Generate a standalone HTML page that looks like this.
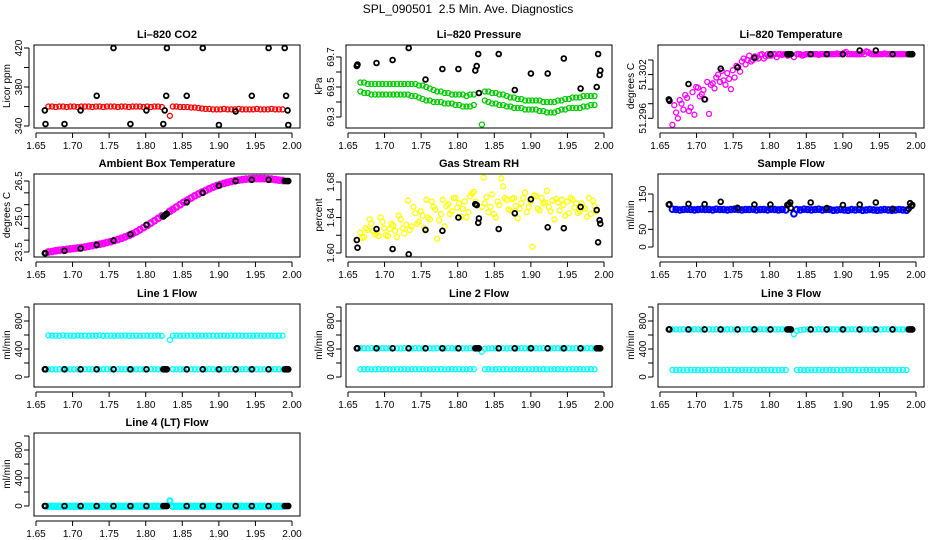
<!DOCTYPE html>
<html><head><meta charset="utf-8"><style>
html,body{margin:0;padding:0;background:#fff;}
svg{display:block;font-family:"Liberation Sans",Arial,sans-serif;}
</style></head><body>
<svg id="chart" width="936" height="540" viewBox="0 0 936 540">
<text x="468" y="13" text-anchor="middle" font-size="12">SPL_090501 &#160;2.5 Min. Ave. Diagnostics</text>
</svg>
<script>
// ---- shared time values ----
const blackTimes = [1.662,1.663,1.689,1.711,1.733,1.756,1.779,1.801,1.824,1.826,1.828,1.829,1.856,1.878,1.900,1.923,1.945,1.968,1.990,1.992,1.994,1.995];
const xTicks = [1.65,1.70,1.75,1.80,1.85,1.90,1.95,2.00];
const xTickLabels = ["1.65","1.70","1.75","1.80","1.85","1.90","1.95","2.00"];

// ---- Li-820 CO2 ----
const co2Red = [360,360,359.5,360,360,359.5,360,360,359.5,360,360,360,359.5,360,360,359.5,360,360,360,359.5,360,360,359.5,360,360,360,359.5,360,359.5,360,360,359.5,
350.5,
360,360,359.5,359.5,359.5,359,359,358.5,358,357.5,357.5,357,357,357,357.5,357,357,357,357.5,357,357,357,357,357.5,357,357,357,357.5,357,357,357];
const co2Black = [356,342,342,356,371,420,342,356,342,356,371,420,371,420,341,355,371,420,420,371,356,341];

// ---- Li-820 Pressure ----
const presUpper = [69.53,69.53,69.52,69.52,69.52,69.52,69.52,69.52,69.52,69.52,69.52,69.52,69.52,69.52,69.52,69.52,69.51,69.51,69.50,69.49,69.48,69.47,69.47,69.46,69.46,69.45,69.45,69.45,69.45,69.44,69.45,69.45,
69.25,
69.47,69.47,69.46,69.46,69.45,69.45,69.44,69.43,69.43,69.42,69.42,69.41,69.41,69.41,69.41,69.41,69.40,69.40,69.40,69.40,69.41,69.41,69.42,69.42,69.43,69.43,69.43,69.44,69.44,69.44,69.44];
const presLower = [69.47,69.46,69.46,69.45,69.45,69.45,69.45,69.45,69.45,69.45,69.45,69.45,69.45,69.45,69.44,69.44,69.43,69.42,69.41,69.41,69.40,69.40,69.40,69.39,69.39,69.39,69.38,69.38,69.37,69.37,69.37,69.38,
null,
69.41,69.40,69.39,69.39,69.38,69.38,69.37,69.37,69.36,69.36,69.36,69.35,69.35,69.35,69.35,69.34,69.34,69.33,69.33,69.33,69.34,69.35,69.35,69.36,69.36,69.36,69.36,69.37,69.37,69.38,69.38];
const presBlack = [69.64,69.65,69.66,69.68,69.76,69.55,69.62,69.62,69.61,69.64,69.72,69.46,69.72,69.48,69.59,69.59,69.69,69.49,69.50,69.72,69.58,69.61];

// ---- Li-820 Temperature ----
const tempMag = [51.2951,51.2968,51.2985,51.2972,51.2988,51.2975,51.2965,51.3002,51.2993,51.2986,51.2966,51.3008,51.3016,51.3010,51.3012,51.3022,51.3000,51.3016,51.3030,51.3038,51.3034,51.3046,51.3040,51.3044,51.3047,51.3042,51.3048,51.3046,51.3048,51.3048,51.3047,51.3048,
51.3044,
51.3048,51.3048,51.3047,51.3048,51.3048,51.3048,51.3047,51.3048,51.3048,51.3048,51.3048,51.3049,51.3048,51.3050,51.3048,51.3048,51.3048,51.3048,51.3050,51.3052,51.3049,51.3048,51.3048,51.3048,51.3049,51.3048,51.3048,51.3048,51.3048,51.3048,51.3048];
const tempMag2 = [51.2978,51.2960,51.2980,51.2992,51.2970,51.2996,51.3003,51.2990,51.2999,51.3010,51.3006,51.3001,51.3020,51.3025,51.3006,51.3014,51.3026,51.3032,51.3024,51.3042,51.3040,51.3038,51.3045,51.3042,51.3048,51.3045,51.3046,51.3048,51.3044,51.3048,51.3048,51.3046,
null,
51.3048,51.3046,51.3048,51.3048,51.3048,51.3048,51.3048,51.3048,51.3048,51.3048,51.3048,51.3048,51.3048,51.3051,51.3048,51.3048,51.3048,51.3048,51.3048,51.3051,51.3048,51.3048,51.3048,51.3048,51.3048,51.3048,51.3048,51.3048,51.3048,51.3048,51.3048];
const tempBlack = [51.2986,51.2984,51.3007,51.2986,51.3028,51.3030,51.3043,51.3048,51.3048,51.3048,51.3048,51.3048,51.3048,51.3048,51.3048,51.3053,51.3053,51.3048,51.3048,51.3048,51.3048,51.3048];

// ---- Ambient Box Temperature ----
const ambMag = [23.50,23.52,23.55,23.57,23.59,23.61,23.63,23.65,23.67,23.69,23.71,23.74,23.77,23.80,23.83,23.86,23.90,23.94,23.98,24.03,24.08,24.14,24.20,24.27,24.35,24.44,24.53,24.62,24.72,24.82,24.92,25.02,
25.22,
25.30,25.40,25.50,25.60,25.69,25.78,25.87,25.95,26.03,26.10,26.17,26.24,26.30,26.35,26.40,26.44,26.48,26.51,26.54,26.56,26.58,26.59,26.60,26.60,26.60,26.60,26.59,26.58,26.56,26.54,26.52];
const ambBlack = [23.45,23.45,23.55,23.65,23.80,23.98,24.25,24.65,25.00,25.05,25.10,25.12,25.60,26.00,26.30,26.50,26.55,26.55,26.50,26.50,26.50,26.50];

// ---- Gas Stream RH ----
const rhYellowA = [1.6230,1.6180,1.6260,1.6330,1.6210,1.6190,1.6350,1.6200,1.6270,1.6310,1.6180,1.6380,1.6220,1.6590,1.6300,1.6450,1.6350,1.6420,1.6600,1.6380,1.6520,1.6160,1.6440,1.6300,1.6550,1.6470,1.6620,1.6560,1.6500,1.6400,1.6640,1.6690,
1.6520,
1.6560,1.6460,1.6660,1.6400,1.6540,1.6750,1.6600,1.6480,1.6620,1.6390,1.6560,1.6680,1.6520,1.6070,1.6640,1.6480,1.6560,1.6700,1.6470,1.6380,1.6570,1.6600,1.6420,1.6450,1.6600,1.6560,1.6470,1.6520,1.6410,1.6440,1.6530];
const rhYellowB = [1.6170,1.6280,1.6380,1.6250,1.6230,1.6400,1.6280,1.6190,1.6330,1.6250,1.6420,1.6280,1.6320,1.6260,1.6520,1.6330,1.6470,1.6280,1.6400,1.6580,1.6490,1.6370,1.6600,1.6530,1.6440,1.6620,1.6510,1.6410,1.6580,1.6460,1.6670,1.6580,
1.6850,
1.6630,1.6520,1.6440,1.6580,1.6840,1.6620,1.6490,1.6610,1.6530,1.6500,1.6620,1.6460,1.6580,1.6650,1.6500,1.6620,1.6570,1.6520,1.6590,1.6610,1.6480,1.6540,1.6580,1.6620,1.6510,1.6450,1.6560,1.6500,1.6620,1.6590,1.6470];
const rhBlack = [1.6146,1.6060,1.6270,1.6045,1.5985,1.6260,1.6250,1.6400,1.6550,1.6540,1.6340,1.6390,1.6270,1.6447,1.6605,1.6290,1.6280,1.6520,1.6485,1.6120,1.6370,1.6330];

// ---- Sample Flow ----
const sampleBlue = [107,106,105,106,107,106,105,106,107,106,106,105,107,106,106,105,106,107,106,105,106,106,107,105,106,106,105,107,106,105,106,105,
94,
106,105,107,106,105,106,107,105,106,106,104,105,106,105,104,106,105,106,104,105,106,105,104,105,106,105,104,105,106,105,104];
const sampleBlack = [120,121,122,121,128,111,120,120,119,121,126,110,126,110,119,120,126,108,108,124,116,119];

// ---- Line flows ----
const line1Upper = [595,590,592,588,594,590,591,589,593,590,592,588,591,590,594,589,590,592,588,591,590,593,589,590,591,588,592,590,589,591,590,588,
530,
592,590,588,591,590,593,589,590,592,588,591,590,589,592,590,588,591,590,593,589,590,591,588,592,590,589,591,590,588,592,590];
const line1Lower = [110,110,109,110,111,110,110,109,110,110,111,110,109,110,110,110,111,110,109,110,110,110,111,110,109,110,110,110,111,110,109,110,
null,
110,110,109,110,111,110,110,109,110,110,111,110,109,110,110,110,111,110,109,110,110,110,111,110,109,110,110,110,111,110,109];
const line1Black = [110,110,110,110,110,110,110,110,110,110,110,110,110,110,110,110,110,110,110,110,110,110];

const line2Upper = [412,410,408,411,410,409,412,410,408,411,410,409,412,410,408,411,410,409,412,410,408,411,410,409,412,410,408,411,410,409,412,410,
360,
405,408,410,409,412,410,408,411,410,409,412,410,408,411,410,409,412,410,408,411,410,409,412,410,408,411,410,409,412,410,408];
const line2Lower = [112,110,111,109,110,112,110,111,109,110,112,110,111,109,110,112,110,111,109,110,112,110,111,109,110,112,110,111,109,110,112,110,
null,
110,111,109,110,112,110,111,109,110,112,110,111,109,110,112,110,111,109,110,112,110,111,109,110,112,110,111,109,110,112,110];
const line2Black = [410,410,410,410,410,410,410,410,410,410,410,410,410,410,410,410,410,410,410,410,410,410];

const line3Upper = [682,680,678,681,680,679,682,680,678,681,680,679,682,680,678,681,680,679,682,680,678,681,680,679,682,680,678,681,680,679,682,680,
610,
660,672,678,681,680,679,682,680,678,681,680,679,682,680,678,681,680,679,682,680,678,681,680,679,682,680,678,681,680,679,682];
const line3Lower = [102,100,101,99,100,102,100,101,99,100,102,100,101,99,100,102,100,101,99,100,102,100,101,99,100,102,100,101,99,100,102,100,
null,
100,101,99,100,102,100,101,99,100,102,100,101,99,100,102,100,101,99,100,102,100,101,99,100,102,100,101,99,100,102,100];
const line3Black = [680,680,680,680,680,680,680,680,680,680,680,680,680,680,680,680,680,680,680,680,680,680];

const line4A = [0,0,0,0,0,0,0,0,0,0,0,0,0,0,0,0,0,0,0,0,0,0,0,0,0,0,0,0,0,0,0,0,
75,
0,0,0,0,0,0,0,0,0,0,0,0,0,0,0,0,0,0,0,0,0,0,0,0,0,0,0,0,0,0,0];
const line4B = [-8,-8,-8,-8,-8,-8,-8,-8,-8,-8,-8,-8,-8,-8,-8,-8,-8,-8,-8,-8,-8,-8,-8,-8,-8,-8,-8,-8,-8,-8,-8,-8,
null,
-8,-8,-8,-8,-8,-8,-8,-8,-8,-8,-8,-8,-8,-8,-8,-8,-8,-8,-8,-8,-8,-8,-8,-8,-8,-8,-8,-8,-8,-8,-8];
const line4Black = [0,0,0,0,0,0,0,0,0,0,0,0,0,0,0,0,0,0,0,0,0,0];

// ---- drawing ----
const svg = document.getElementById('chart');
const NS = 'http://www.w3.org/2000/svg';
function mk(tag, attrs, parent) {
  const e = document.createElementNS(NS, tag);
  for (const k in attrs) e.setAttribute(k, attrs[k]);
  (parent || svg).appendChild(e);
  return e;
}
function denseTime(i) {
  if (i < 32) return 1.667 + 0.005 * i;
  if (i === 32) return 1.833;
  return 1.837 + 0.005 * (i - 33);
}
const rowTop = [34, 163, 293, 422];

function panel(cfg) {
  const L = 34 + 312 * cfg.col, T = rowTop[cfg.row];
  const g = mk('g', {});
  
  
  const xs = v => L + 2 + (v - 1.65) / 0.35 * 256;
  const ys = v => T + cfg.y1off + (v - cfg.y1) / (cfg.y2 - cfg.y1) * (cfg.y2off - cfg.y1off);
  const t = mk('text', {x: L + 133, y: T + 4, 'text-anchor': 'middle', 'font-size': 11, 'font-weight': 'bold'}, g);
  t.textContent = cfg.title;
  
  
  const xa = mk('g', {}, g);
  
  
  mk('line', {x1: xs(xTicks[0]), x2: xs(xTicks[xTicks.length - 1]), y1: T + 99, y2: T + 99, stroke: '#000'}, xa);
  xTicks.forEach((v, i) => {
    mk('line', {x1: xs(v), x2: xs(v), y1: T + 99, y2: T + 104, stroke: '#000'}, xa);
    const lb = mk('text', {x: xs(v), y: T + 115, 'text-anchor': 'middle', 'font-size': 10}, xa);
    lb.textContent = xTickLabels[i];
  });
  const ya = mk('g', {}, g);
  
  
  mk('line', {x1: L - 5, x2: L - 5, y1: ys(cfg.ticks[0]), y2: ys(cfg.ticks[cfg.ticks.length - 1]), stroke: '#000'}, ya);
  cfg.ticks.forEach((v, i) => {
    mk('line', {x1: L - 10, x2: L - 5, y1: ys(v), y2: ys(v), stroke: '#000'}, ya);
    if (cfg.labels[i]) {
      const lb = mk('text', {x: 0, y: 0, 'text-anchor': 'middle', 'font-size': 10,
        transform: 'translate(' + (L - 12) + ',' + ys(v) + ') rotate(-90)'}, ya);
      lb.textContent = cfg.labels[i];
    }
  });
  const yt = mk('text', {x: 0, y: 0, 'text-anchor': 'middle', 'font-size': 10,
    transform: 'translate(' + (L - 24) + ',' + (T + 52) + ') rotate(-90)'}, g);
  yt.textContent = cfg.ylab;
  
  
  const cid = 'clip-' + cfg.name;
  const cp = mk('clipPath', {id: cid}, g);
  mk('rect', {x: L, y: T + 11, width: 266, height: 83}, cp);
  const pg = mk('g', {'clip-path': 'url(#' + cid + ')'}, g);
  cfg.series.forEach(s => {
    const sg = mk('g', {fill: 'none', stroke: s.color, 'stroke-width': s.sw || 1.3}, pg);
    
    
    s.values.forEach((v, i) => {
      if (v === null) return;
      const tx = s.times ? s.times[i] : denseTime(i) + (s.offset || 0);
      const c = mk('circle', {cx: xs(tx).toFixed(1), cy: ys(v).toFixed(1), r: s.r || 2.5}, sg);
      
      
    });
  });
  const box = mk('rect', {x: L, y: T + 11, width: 266, height: 83, fill: 'none', stroke: '#000'}, g);
  
  
}
const blk = v => ({name: 'black-points', color: '#000', values: v, times: blackTimes, sw: 1.8, r: 2.4});
const flowTicks = [0,200,400,600,800,1000];
const flowLabels = ['0','','400','','800',''];

panel({name: 'co2', col: 0, row: 0, title: 'Li\u2013820 CO2', ylab: 'Licor ppm', y1: 420, y1off: 14, y2: 340, y2off: 92,
  ticks: [340,360,380,400,420], labels: ['340','','380','','420'],
  series: [{name: 'red-points', color: '#ff0000', values: co2Red}, blk(co2Black)]});
panel({name: 'pressure', col: 1, row: 0, title: 'Li\u2013820 Pressure', ylab: 'kPa', y1: 69.7, y1off: 23, y2: 69.3, y2off: 83,
  ticks: [69.3,69.4,69.5,69.6,69.7], labels: ['69.3','','69.5','','69.7'],
  series: [{name: 'green-upper', color: '#00cc00', values: presUpper}, {name: 'green-lower', color: '#00cc00', values: presLower}, blk(presBlack)]});
panel({name: 'temperature', col: 2, row: 0, title: 'Li\u2013820 Temperature', ylab: 'degrees C', y1: 51.304, y1off: 26, y2: 51.296, y2off: 84.3,
  ticks: [51.296,51.298,51.300,51.302,51.304], labels: ['51.296','','','51.302',''],
  series: [{name: 'magenta-points', color: '#ff00ff', values: tempMag}, {name: 'magenta-points-2', color: '#ff00ff', values: tempMag2, offset: 0.0025}, blk(tempBlack)]});
panel({name: 'ambient', col: 0, row: 1, title: 'Ambient Box Temperature', ylab: 'degrees C', y1: 26.5, y1off: 18, y2: 23.5, y2off: 89,
  ticks: [23.5,24.0,24.5,25.0,25.5,26.0,26.5], labels: ['23.5','','','25.0','','','26.5'],
  series: [{name: 'magenta-points', color: '#ff00ff', values: ambMag, r: 2.8, sw: 2.2}, blk(ambBlack)]});
panel({name: 'rh', col: 1, row: 1, title: 'Gas Stream RH', ylab: 'percent', y1: 1.68, y1off: 19, y2: 1.60, y2off: 90,
  ticks: [1.60,1.62,1.64,1.66,1.68], labels: ['1.60','','1.64','','1.68'],
  series: [{name: 'yellow-points', color: '#ffff00', values: rhYellowA}, {name: 'yellow-points-2', color: '#ffff00', values: rhYellowB, offset: 0.0025}, blk(rhBlack)]});
panel({name: 'sample-flow', col: 2, row: 1, title: 'Sample Flow', ylab: 'ml/min', y1: 150, y1off: 31, y2: 0, y2off: 84,
  ticks: [0,50,100,150], labels: ['0','50','','150'],
  series: [{name: 'blue-points', color: '#0000ff', values: sampleBlue, r: 2.8, sw: 2}, blk(sampleBlack)]});
panel({name: 'line1-flow', col: 0, row: 2, title: 'Line 1 Flow', ylab: 'ml/min', y1: 1000, y1off: 14, y2: 0, y2off: 84,
  ticks: flowTicks, labels: flowLabels,
  series: [{name: 'cyan-upper', color: '#00ffff', values: line1Upper}, {name: 'cyan-lower', color: '#00ffff', values: line1Lower}, blk(line1Black)]});
panel({name: 'line2-flow', col: 1, row: 2, title: 'Line 2 Flow', ylab: 'ml/min', y1: 1000, y1off: 14, y2: 0, y2off: 84,
  ticks: flowTicks, labels: flowLabels,
  series: [{name: 'cyan-upper', color: '#00ffff', values: line2Upper}, {name: 'cyan-lower', color: '#00ffff', values: line2Lower}, blk(line2Black)]});
panel({name: 'line3-flow', col: 2, row: 2, title: 'Line 3 Flow', ylab: 'ml/min', y1: 1000, y1off: 14, y2: 0, y2off: 84,
  ticks: flowTicks, labels: flowLabels,
  series: [{name: 'cyan-upper', color: '#00ffff', values: line3Upper}, {name: 'cyan-lower', color: '#00ffff', values: line3Lower}, blk(line3Black)]});
panel({name: 'line4-flow', col: 0, row: 3, title: 'Line 4 (LT) Flow', ylab: 'ml/min', y1: 1000, y1off: 14, y2: 0, y2off: 84,
  ticks: flowTicks, labels: flowLabels,
  series: [{name: 'cyan-points', color: '#00ffff', values: line4A, sw: 2}, {name: 'cyan-points-2', color: '#00ffff', values: line4B, sw: 2}, blk(line4Black)]});
</script>
</body></html>
